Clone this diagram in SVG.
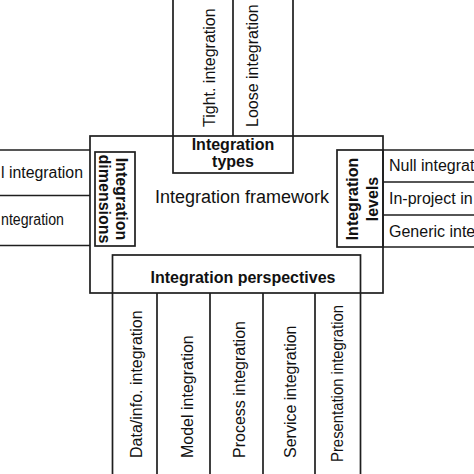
<svg xmlns="http://www.w3.org/2000/svg" width="474" height="474" viewBox="0 0 474 474">
<style>
.ln{stroke:#1e1e1e;stroke-width:1.7;fill:none}
.t{font-family:"Liberation Sans",Arial,sans-serif;font-size:16px;fill:#111}
.b{font-family:"Liberation Sans",Arial,sans-serif;font-size:16px;font-weight:bold;fill:#111}
.f{font-family:"Liberation Sans",Arial,sans-serif;font-size:18px;fill:#111}
</style>
<rect width="474" height="474" fill="#fff"/>
<g id="framework">
<rect class="ln" x="90" y="136" width="293" height="157"/>
<text class="f" x="242" y="203" text-anchor="middle">Integration framework</text>
</g>
<g id="connectors">
<line class="ln" x1="0" y1="150" x2="90" y2="150"/>
<line class="ln" x1="0" y1="195.5" x2="90" y2="195.5"/>
<line class="ln" x1="0" y1="245.5" x2="90" y2="245.5"/>
<line class="ln" x1="383" y1="150" x2="474" y2="150"/>
<line class="ln" x1="383" y1="182" x2="474" y2="182"/>
<line class="ln" x1="383" y1="215" x2="474" y2="215"/>
<line class="ln" x1="383" y1="247" x2="474" y2="247"/>
</g>
<g id="types">
<rect class="ln" x="173" y="-2" width="120" height="175"/>
<line class="ln" x1="233" y1="0" x2="233" y2="136"/>
<text class="b" x="233" y="150" text-anchor="middle">Integration</text>
<text class="b" x="233" y="167" text-anchor="middle">types</text>
</g>
<g id="tight"><text class="t" transform="translate(215,127) rotate(-90)">Tight. integration</text></g>
<g id="loose"><text class="t" transform="translate(258,127) rotate(-90)">Loose integration</text></g>
<g id="dimensions">
<rect class="ln" x="95" y="152" width="40" height="94"/>
<text class="b" transform="translate(115.5,199) rotate(90)" text-anchor="middle">Integration</text>
<text class="b" transform="translate(99,199) rotate(90)" text-anchor="middle">dimensions</text>
</g>
<g id="dim1"><text class="t" x="1" y="178" textLength="82" lengthAdjust="spacingAndGlyphs">l integration</text></g>
<g id="dim2"><text class="t" x="1" y="225" textLength="63" lengthAdjust="spacingAndGlyphs">ntegration</text></g>
<g id="levels">
<rect class="ln" x="337" y="150" width="46" height="97"/>
<text class="b" transform="translate(357.5,199) rotate(-90)" text-anchor="middle">Integration</text>
<text class="b" transform="translate(377.5,199) rotate(-90)" text-anchor="middle">levels</text>
</g>
<g id="lev1"><text class="t" x="389" y="171">Null integrat</text></g>
<g id="lev2"><text class="t" x="389" y="204">In-project in</text></g>
<g id="lev3"><text class="t" x="389" y="237">Generic inte</text></g>
<g id="perspectives">
<rect class="ln" x="112.5" y="255" width="248" height="222"/>
<text class="b" x="243" y="283" text-anchor="middle">Integration perspectives</text>
<line class="ln" x1="157" y1="293" x2="157" y2="476"/>
<line class="ln" x1="210" y1="293" x2="210" y2="476"/>
<line class="ln" x1="263" y1="293" x2="263" y2="476"/>
<line class="ln" x1="315" y1="293" x2="315" y2="476"/>
</g>
<g id="data"><text class="t" transform="translate(141.5,458) rotate(-90)">Data/info. integration</text></g>
<g id="model"><text class="t" transform="translate(193,458) rotate(-90)">Model integration</text></g>
<g id="process"><text class="t" transform="translate(244.5,458) rotate(-90)">Process integration</text></g>
<g id="service"><text class="t" transform="translate(296,458) rotate(-90)">Service integration</text></g>
<g id="presentation"><text class="t" transform="translate(343,462) rotate(-90)" textLength="157" lengthAdjust="spacingAndGlyphs">Presentation integration</text></g>
</svg>
